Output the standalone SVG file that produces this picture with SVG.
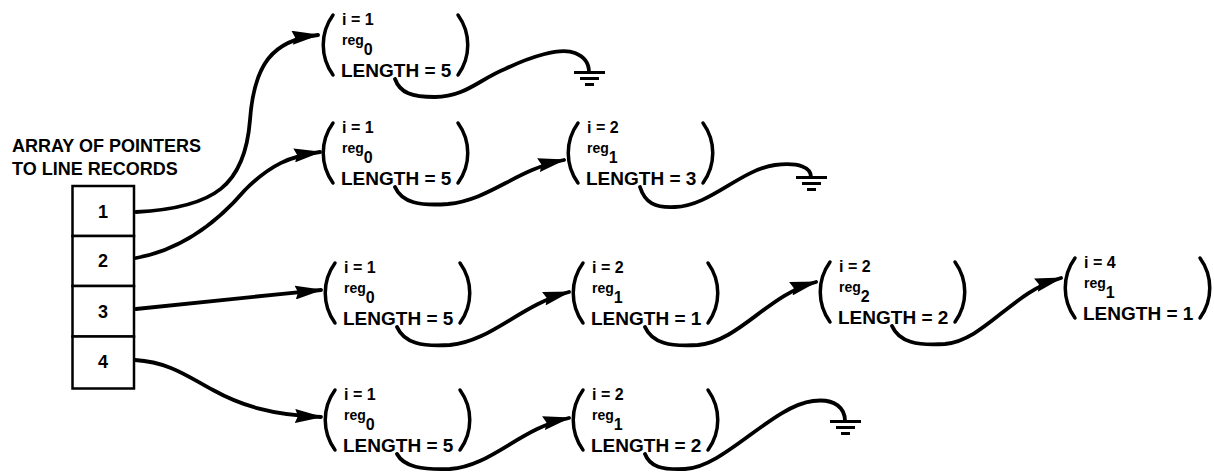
<svg xmlns="http://www.w3.org/2000/svg" width="1214" height="474" viewBox="0 0 1214 474">
<style>
  .t { font-family: "Liberation Sans", Arial, sans-serif; font-weight: bold; fill: #000; }
  .title { font-size: 18px; }
  .num { font-size: 18px; text-anchor: middle; }
  .iv { font-size: 16px; }
  .reg { font-size: 14px; }
  .sub { font-size: 16px; }
  .len { font-size: 19px; }
  .paren { fill: none; stroke: #000; stroke-width: 3.5; stroke-linecap: round; }
  .cell { fill: #fff; stroke: #000; stroke-width: 2.5; }
  .conn { fill: none; stroke: #000; stroke-width: 3.8; stroke-linecap: round; }
  .arr { marker-end: url(#ah); }
  .gnd { stroke: #000; stroke-width: 3; }
</style>
<defs>
  <marker id="ah" viewBox="0 0 28 14" markerWidth="28" markerHeight="14" markerUnits="userSpaceOnUse" refX="26" refY="7" orient="auto">
    <path d="M0,0 L28,7 L0,14 L3,7 Z" fill="#000"/>
  </marker>
  <g id="lp"><path class="paren" d="M10,0 C-3,18 -3,42 10,60"/></g>
  <g id="rp"><path class="paren" d="M135,0 C148,18 148,42 135,60"/></g>
</defs>
<rect width="1214" height="474" fill="#fff"/>

<g id="title">
  <text class="t title" x="12" y="152">ARRAY OF POINTERS</text>
  <text class="t title" x="12" y="175">TO LINE RECORDS</text>
</g>

<g id="array">
  <rect class="cell" x="72.5" y="186" width="61.5" height="50"/>
  <rect class="cell" x="72.5" y="236" width="61.5" height="50"/>
  <rect class="cell" x="72.5" y="286" width="61.5" height="50.5"/>
  <rect class="cell" x="72.5" y="336.5" width="61.5" height="52"/>
  <text class="t num" x="103" y="218">1</text>
  <text class="t num" x="103" y="267">2</text>
  <text class="t num" x="103" y="318">3</text>
  <text class="t num" x="103" y="368">4</text>
</g>

<g id="r00" transform="translate(323,15)">
  <use href="#lp"/><use href="#rp"/>
  <text class="t iv" x="19" y="10">i = 1</text>
  <text class="t reg" x="19" y="30">reg<tspan class="sub" dy="10">0</tspan></text>
  <text class="t len" x="18" y="62">LENGTH = 5</text>
</g>

<g id="r10" transform="translate(323,123)">
  <use href="#lp"/><use href="#rp"/>
  <text class="t iv" x="19" y="10">i = 1</text>
  <text class="t reg" x="19" y="30">reg<tspan class="sub" dy="10">0</tspan></text>
  <text class="t len" x="18" y="62">LENGTH = 5</text>
</g>
<g id="r11" transform="translate(568,123)">
  <use href="#lp"/><use href="#rp"/>
  <text class="t iv" x="19" y="10">i = 2</text>
  <text class="t reg" x="19" y="30">reg<tspan class="sub" dy="10">1</tspan></text>
  <text class="t len" x="18" y="62">LENGTH = 3</text>
</g>

<g id="r20" transform="translate(325,263)">
  <use href="#lp"/><use href="#rp"/>
  <text class="t iv" x="19" y="10">i = 1</text>
  <text class="t reg" x="19" y="30">reg<tspan class="sub" dy="10">0</tspan></text>
  <text class="t len" x="18" y="62">LENGTH = 5</text>
</g>
<g id="r21" transform="translate(573,263)">
  <use href="#lp"/><use href="#rp"/>
  <text class="t iv" x="19" y="10">i = 2</text>
  <text class="t reg" x="19" y="30">reg<tspan class="sub" dy="10">1</tspan></text>
  <text class="t len" x="18" y="62">LENGTH = 1</text>
</g>
<g id="r22" transform="translate(820,262)">
  <use href="#lp"/><use href="#rp"/>
  <text class="t iv" x="19" y="10">i = 2</text>
  <text class="t reg" x="19" y="30">reg<tspan class="sub" dy="10">2</tspan></text>
  <text class="t len" x="18" y="62">LENGTH = 2</text>
</g>
<g id="r23" transform="translate(1065,258)">
  <use href="#lp"/><use href="#rp"/>
  <text class="t iv" x="19" y="10">i = 4</text>
  <text class="t reg" x="19" y="30">reg<tspan class="sub" dy="10">1</tspan></text>
  <text class="t len" x="18" y="62">LENGTH = 1</text>
</g>

<g id="r30" transform="translate(325,390)">
  <use href="#lp"/><use href="#rp"/>
  <text class="t iv" x="19" y="10">i = 1</text>
  <text class="t reg" x="19" y="30">reg<tspan class="sub" dy="10">0</tspan></text>
  <text class="t len" x="18" y="62">LENGTH = 5</text>
</g>
<g id="r31" transform="translate(573,390)">
  <use href="#lp"/><use href="#rp"/>
  <text class="t iv" x="19" y="10">i = 2</text>
  <text class="t reg" x="19" y="30">reg<tspan class="sub" dy="10">1</tspan></text>
  <text class="t len" x="18" y="62">LENGTH = 2</text>
</g>

<g id="connectors">
  <path class="conn arr" d="M136,212 C215,208 245,185 250,120 C254,65 272,40 318,35"/>
  <path class="conn arr" d="M136,258 C180,250 215,225 245,190 C270,165 290,156 320,152"/>
  <path class="conn arr" d="M136,309 C200,302 260,296 321,290"/>
  <path class="conn arr" d="M135,360 C170,362 190,378 213,390 C240,405 270,415 321,417"/>

  <path class="conn" d="M395,79 C400,93 412,97 435,97 C465,97 480,79 505,69 C530,57 560,47 575,53 C585,57 589,63 589,72"/>
  <path class="conn arr" d="M395,187 C402,203 420,206 448,204 C490,200 515,170 564,160"/>
  <path class="conn" d="M640,187 C645,203 655,208 675,207 C710,206 740,170 775,165 C800,162 811,168 811,177"/>
  <path class="conn arr" d="M397,327 C404,343 422,347 450,345 C492,341 520,305 569,292"/>
  <path class="conn arr" d="M645,327 C652,343 670,347 698,345 C740,341 767,295 816,282"/>
  <path class="conn arr" d="M892,326 C899,342 917,346 945,344 C985,340 1012,292 1061,278"/>
  <path class="conn arr" d="M397,454 C404,467 422,470 450,469 C492,466 520,428 569,418"/>
  <path class="conn" d="M645,454 C650,467 662,470 685,469 C725,467 772,406 813,401 C836,398 845,409 845,421"/>

  <g id="ground0">
    <line class="gnd" x1="574" y1="72.5" x2="605" y2="72.5"/>
    <line class="gnd" x1="580" y1="78.5" x2="599" y2="78.5"/>
    <line class="gnd" x1="585" y1="84.5" x2="594" y2="84.5"/>
  </g>
  <g id="ground1">
    <line class="gnd" x1="796" y1="177.5" x2="827" y2="177.5"/>
    <line class="gnd" x1="802" y1="183.5" x2="821" y2="183.5"/>
    <line class="gnd" x1="807" y1="189.5" x2="816" y2="189.5"/>
  </g>
  <g id="ground3">
    <line class="gnd" x1="830" y1="421.5" x2="861" y2="421.5"/>
    <line class="gnd" x1="836" y1="427.5" x2="855" y2="427.5"/>
    <line class="gnd" x1="841" y1="433.5" x2="850" y2="433.5"/>
  </g>
</g>
</svg>
